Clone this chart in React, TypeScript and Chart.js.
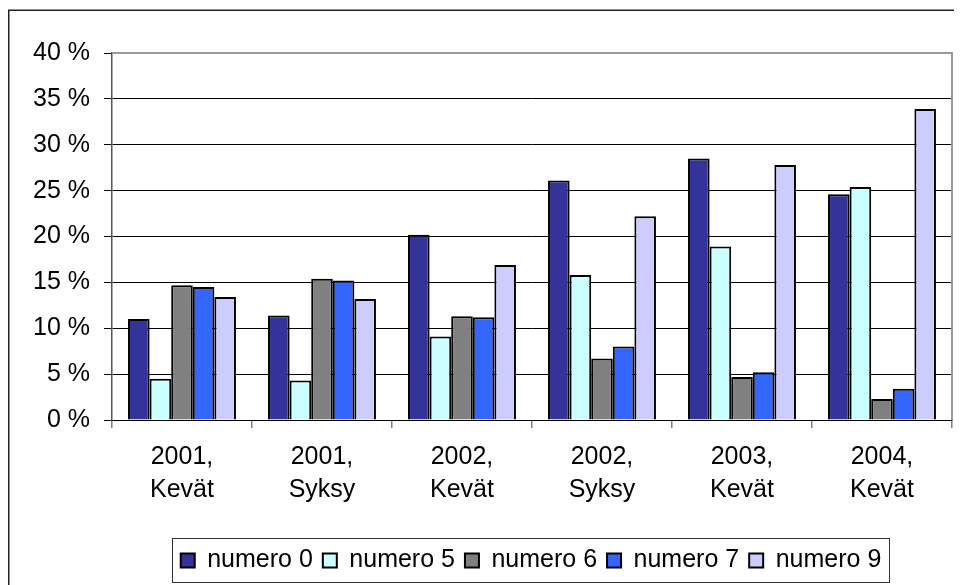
import React, { useEffect, useRef } from 'react';
import { Chart, registerables } from 'chart.js';

Chart.register(...registerables);

const categories: string[][] = [
  ['2001,', 'Kevät'],
  ['2001,', 'Syksy'],
  ['2002,', 'Kevät'],
  ['2002,', 'Syksy'],
  ['2003,', 'Kevät'],
  ['2004,', 'Kevät'],
];

const seriesNames = ['numero 0', 'numero 5', 'numero 6', 'numero 7', 'numero 9'];

const numero0 = [11.0, 11.4, 20.2, 26.1, 28.5, 24.6];
const numero5 = [4.5, 4.3, 9.1, 15.8, 18.9, 25.4];
const numero6 = [14.7, 15.4, 11.3, 6.7, 4.7, 2.3];
const numero7 = [14.5, 15.2, 11.2, 8.0, 5.2, 3.4];
const numero9 = [13.4, 13.2, 16.9, 22.2, 27.8, 33.9];

const seriesValues = [numero0, numero5, numero6, numero7, numero9];
const seriesColors = ['#333399', '#CCFFFF', '#808080', '#3366FF', '#CCCCFF'];

const yMin = 0;
const yMax = 40;
const yStep = 5;

const W = 954;
const H = 577;
const FONT = '"Liberation Sans", Arial, sans-serif';

// legend frame (canvas coordinates)
const LG_LEFT = 164;
const LG_RIGHT = 882;
const LG_TOP = 530;
const LG_BOTTOM = 575;

const framePlugin = {
  id: 'frame',
  afterLayout(chart: any) {
    const lg = chart.legend;
    if (lg) {
      const c = (LG_LEFT + LG_RIGHT) / 2;
      lg.left = c - 400;
      lg.right = c + 400;
      lg.width = 800;
      lg.top = LG_TOP;
      lg.bottom = LG_BOTTOM;
      lg.height = LG_BOTTOM - LG_TOP;
    }
  },
  beforeDatasetsDraw(chart: any) {
    const ctx = chart.ctx;
    const a = chart.chartArea;
    ctx.save();
    ctx.strokeStyle = '#999999';
    ctx.lineWidth = 2;
    ctx.beginPath();
    ctx.moveTo(a.left, a.top);
    ctx.lineTo(a.right, a.top);
    ctx.lineTo(a.right, a.bottom);
    ctx.stroke();
    ctx.restore();
  },
  afterDraw(chart: any) {
    const ctx = chart.ctx;
    ctx.save();
    ctx.strokeStyle = '#333333';
    ctx.lineWidth = 1;
    ctx.strokeRect(LG_LEFT + 0.5, LG_TOP + 0.5, LG_RIGHT - LG_LEFT - 1, LG_BOTTOM - LG_TOP - 1);
    ctx.strokeStyle = '#222222';
    ctx.lineWidth = 1.5;
    ctx.strokeRect(0.75, 2.25, W + 20, H + 20);
    ctx.restore();
  },
};

export default function App() {
  const canvasRef = useRef<HTMLCanvasElement | null>(null);

  useEffect(() => {
    document.body.style.overflow = 'hidden';
    const canvas = canvasRef.current;
    if (!canvas) return;
    const chart = new Chart(canvas, {
      type: 'bar',
      data: {
        labels: categories,
        datasets: seriesNames.map((name, i) => ({
          label: name,
          data: seriesValues[i],
          backgroundColor: seriesColors[i],
          borderColor: '#000000',
          borderWidth: 2,
          categoryPercentage: 0.771,
          barPercentage: 1.0,
        })),
      },
      options: {
        responsive: false,
        animation: false,
        devicePixelRatio: 1,
        layout: { padding: { top: 45, left: 0, right: 10, bottom: 2 } },
        plugins: {
          legend: {
            position: 'bottom',
            labels: {
              boxWidth: 14,
              boxHeight: 14,
              padding: 10,
              color: '#000000',
              font: { family: FONT, size: 25 },
            },
          },
          tooltip: { enabled: false },
          title: { display: false },
        },
        scales: {
          x: {
            offset: true,
            grid: {
              offset: true,
              drawOnChartArea: false,
              drawTicks: true,
              tickLength: 8,
              color: '#808080',
              lineWidth: 1.5,
            },
            border: { display: true, color: '#000000', width: 1 },
            ticks: {
              color: '#000000',
              padding: 13,
              maxRotation: 0,
              autoSkip: false,
              font: { family: FONT, size: 25, lineHeight: 1.3 },
            },
            afterFit(scale: any) {
              scale.height = 118;
            },
          },
          y: {
            min: yMin,
            max: yMax,
            grid: {
              color: (c: any) => (c.tick && c.tick.value === yMax ? 'rgba(0,0,0,0)' : '#000000'),
              tickColor: '#000000',
              lineWidth: 1,
              drawTicks: true,
              tickLength: 8,
            },
            border: { display: true, color: '#555555', width: 1.5 },
            ticks: {
              stepSize: yStep,
              color: '#000000',
              padding: 14,
              font: { family: FONT, size: 25 },
              callback: (v: any) => `${v} %`,
            },
            afterFit(scale: any) {
              scale.width = 104;
            },
          },
        },
      },
      plugins: [framePlugin],
    } as any);
    return () => {
      chart.destroy();
    };
  }, []);

  return (
    <div style={{ width: W, height: H, position: 'relative' }}>
      <canvas ref={canvasRef} width={W} height={H} style={{ display: 'block', width: W, height: H }} />
    </div>
  );
}
